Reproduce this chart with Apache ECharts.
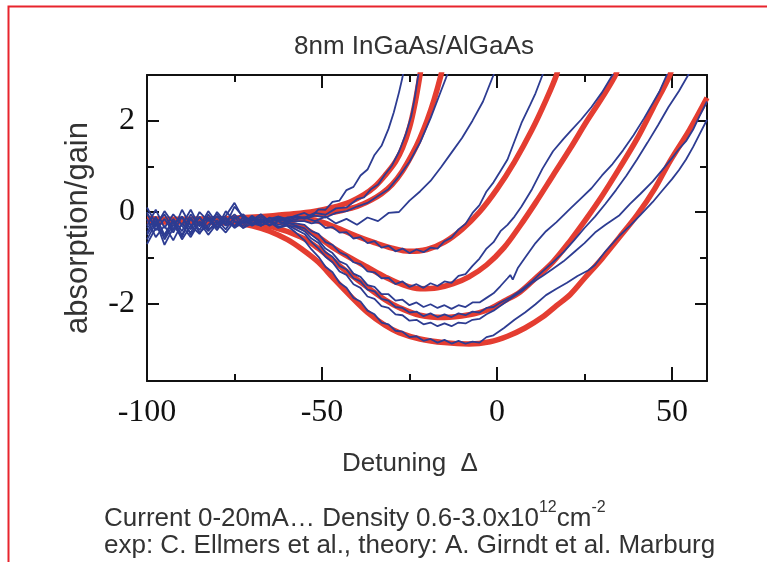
<!DOCTYPE html>
<html>
<head>
<meta charset="utf-8">
<script src="https://cdn.jsdelivr.net/npm/echarts@6/dist/echarts.min.js"></script>
<style>html,body{margin:0;padding:0;background:#fff;}#chart{width:767px;height:562px;}</style>
</head>
<body>
<div id="chart"></div>
<script>
// ---- axis ticks ----
const xMajorTicks = [-100, -50, 0, 50];
const xMinorTicks = [-75, -25, 25];
const yMajorTicks = [-2, 0, 2];
const yMinorTicks = [-1, 1];

// ---- theory curves (red) ----
const theory1 = [[-100,-0.14],[-90,-0.16],[-80,-0.15],[-72,-0.12],[-64,-0.08],[-58,-0.04],[-52,0.02],[-47,0.1],[-42,0.22],[-38,0.38],[-35,0.55],[-32,0.8],[-29,1.1],[-27,1.4],[-25,1.85],[-23.5,2.35],[-22,3.0],[-21.5,3.3]];
const theory2 = [[-100,-0.17],[-90,-0.18],[-80,-0.17],[-70,-0.15],[-62,-0.13],[-55,-0.09],[-49,-0.03],[-44,0.04],[-40,0.12],[-36,0.26],[-33,0.4],[-30,0.6],[-27,0.9],[-24,1.3],[-22,1.62],[-20,2.0],[-18,2.45],[-16,3.0],[-15.5,3.2]];
const theory3 = [[-100,-0.19],[-90,-0.2],[-80,-0.2],[-70,-0.18],[-62,-0.15],[-56,-0.14],[-50,-0.22],[-45,-0.37],[-40,-0.53],[-35,-0.67],[-30,-0.79],[-25,-0.86],[-20,-0.82],[-15,-0.66],[-10,-0.38],[-5,0.0],[0,0.5],[5,1.1],[10,1.8],[14,2.45],[17,3.0],[17.5,3.2]];
const theory4 = [[-100,-0.2],[-90,-0.21],[-80,-0.21],[-70,-0.2],[-62,-0.22],[-56,-0.33],[-51,-0.55],[-47,-0.77],[-42,-1.0],[-37,-1.21],[-32,-1.42],[-28,-1.56],[-22,-1.68],[-17,-1.66],[-12.5,-1.57],[-8,-1.42],[-3,-1.16],[2,-0.78],[6.6,-0.3],[11,0.2],[16,0.8],[21,1.4],[25.6,1.98],[30,2.5],[34,3.02],[34.5,3.2]];
const theory5 = [[-100,-0.21],[-90,-0.22],[-80,-0.23],[-72,-0.25],[-64,-0.33],[-56,-0.55],[-51,-0.8],[-47,-1.05],[-42,-1.36],[-37,-1.65],[-32,-1.92],[-28,-2.09],[-22,-2.26],[-15,-2.31],[-8,-2.25],[-3,-2.15],[2,-1.95],[6.6,-1.75],[11,-1.45],[16,-1.09],[21,-0.62],[25.6,-0.14],[30,0.35],[35,0.96],[40,1.6],[44.6,2.28],[49.4,3.0],[50,3.2]];
const theory6 = [[-100,-0.2],[-90,-0.21],[-82,-0.22],[-75,-0.24],[-70,-0.3],[-65,-0.42],[-60,-0.6],[-56,-0.8],[-51,-1.1],[-47,-1.43],[-42,-1.83],[-37,-2.2],[-32,-2.48],[-28,-2.64],[-22,-2.78],[-15,-2.86],[-8,-2.89],[-2,-2.84],[3,-2.72],[8,-2.54],[13,-2.3],[17,-2.05],[21,-1.8],[25,-1.45],[30,-1.02],[35,-0.55],[40,-0.07],[45,0.5],[49.4,1.11],[55,1.8],[60,2.5]];

// ---- experiment curves (blue): noisy left part on shared detuning grid + right part ----
const noiseX = [-100,-97.5,-95,-92.5,-90,-87.5,-85,-82.5,-80,-77.5,-75,-72.5,-70,-67.5,-65,-62.5,-60,-57.5];
const exp1Left = [-0.05,-0.32,0.02,-0.25,-0.1,-0.38,0.0,-0.2,-0.05,-0.28,0.12,-0.1,-0.18,-0.05,-0.2,-0.1,-0.15,-0.08];
const exp1Right = [[-55,-0.02],[-53,-0.1],[-51,0.06],[-49,0.05],[-47,0.22],[-45,0.25],[-43,0.48],[-41,0.55],[-39,0.8],[-37,0.93],[-35,1.25],[-33,1.45],[-31,1.82],[-29.5,2.18],[-28,2.62],[-27,2.95],[-26.5,3.2]];
const exp2Left = [-0.45,-0.1,-0.5,-0.15,-0.42,-0.05,-0.3,-0.12,-0.35,0.02,-0.2,-0.3,-0.1,-0.25,-0.12,-0.2,-0.12,-0.1];
const exp2Right = [[-55,-0.12],[-52,-0.02],[-49,-0.06],[-46,0.08],[-43,0.1],[-40,0.28],[-38,0.32],[-36,0.5],[-34,0.6],[-32,0.82],[-30,1.02],[-28,1.32],[-26,1.72],[-24.5,2.1],[-23.5,2.5],[-22.5,3.0],[-22,3.2]];
const exp3Left = [0.1,-0.25,-0.05,-0.4,0.05,-0.3,-0.12,-0.35,0.0,-0.22,-0.05,-0.25,-0.08,-0.22,-0.15,-0.1,-0.18,-0.12];
const exp3Right = [[-55,-0.15],[-52,-0.08],[-49,-0.12],[-46,-0.02],[-43,0.02],[-40,0.12],[-37,0.2],[-34,0.35],[-31,0.5],[-28,0.78],[-25,1.1],[-22,1.52],[-19,2.05],[-16.5,2.55],[-14,3.05],[-13.5,3.2]];
const exp4Left = [-0.6,-0.25,-0.55,-0.2,-0.5,-0.15,-0.45,-0.28,-0.1,-0.3,-0.15,-0.05,-0.25,-0.15,-0.22,-0.14,-0.2,-0.16];
const exp4Right = [[-55,-0.12],[-52,-0.2],[-49,-0.1],[-46,-0.25],[-43,-0.15],[-40,-0.28],[-37,-0.12],[-34,-0.2],[-31,-0.02],[-28,0.0],[-25,0.25],[-22,0.45],[-19,0.68],[-16,0.98],[-13,1.3],[-10,1.62],[-7,2.0],[-4,2.42],[-1,3.0],[0,3.2]];
const exp5Left = [-0.3,0.05,-0.35,-0.05,-0.28,0.05,-0.32,0.02,-0.25,-0.08,0.2,-0.15,-0.2,-0.1,-0.22,-0.15,-0.22,-0.2];
const exp5Right = [[-55,-0.2],[-53,-0.25],[-51,-0.22],[-49,-0.35],[-47,-0.33],[-45,-0.45],[-43,-0.44],[-41,-0.58],[-39,-0.55],[-37,-0.68],[-35,-0.64],[-33,-0.78],[-31,-0.74],[-29,-0.86],[-27,-0.8],[-25,-0.9],[-23,-0.82],[-21,-0.88],[-19,-0.78],[-17,-0.8],[-15,-0.64],[-13,-0.56],[-11,-0.38],[-9,-0.26],[-7,-0.02],[-5,0.15],[-3,0.45],[-1,0.65],[1,0.9],[3,1.15],[5,1.55],[7,1.95],[9.5,2.35],[11,2.6],[13,3.0],[13.5,3.15]];
const exp6Left = [-0.7,-0.35,-0.5,-0.22,-0.6,-0.3,-0.48,-0.15,-0.4,-0.12,-0.32,-0.18,-0.3,-0.2,-0.28,-0.2,-0.26,-0.25];
const exp6Right = [[-55,-0.28],[-53,-0.42],[-51,-0.48],[-49,-0.66],[-47,-0.72],[-45,-0.88],[-43,-0.95],[-41,-1.1],[-39,-1.14],[-37,-1.3],[-35,-1.32],[-33,-1.45],[-31,-1.44],[-29,-1.58],[-27,-1.52],[-25,-1.64],[-23,-1.58],[-21,-1.66],[-19,-1.56],[-17,-1.62],[-15,-1.52],[-13,-1.55],[-11,-1.4],[-9,-1.36],[-7,-1.18],[-5,-1.02],[-3,-0.8],[-1,-0.66],[1,-0.42],[3,-0.28],[5,-0.1],[7,0.12],[10,0.5],[13,0.95],[16,1.33],[19,1.6],[21,1.77],[24,2.02],[27,2.3],[30,2.62],[33,3.0],[34,3.15]];
const exp7Left = [0.0,-0.4,-0.15,-0.45,-0.1,-0.5,-0.2,-0.42,-0.18,-0.38,-0.1,-0.35,-0.15,-0.3,-0.18,-0.28,-0.22,-0.3];
const exp7Right = [[-55,-0.36],[-53,-0.5],[-51,-0.62],[-49,-0.8],[-47,-0.9],[-45,-1.08],[-43,-1.15],[-41,-1.35],[-39,-1.42],[-37,-1.6],[-35,-1.64],[-33,-1.8],[-31,-1.8],[-29,-1.94],[-27,-1.92],[-25,-2.04],[-23,-1.98],[-21,-2.08],[-19,-2.02],[-17,-2.1],[-15,-2.04],[-13,-2.12],[-11,-2.04],[-9,-2.08],[-7,-1.98],[-5,-1.98],[-3,-1.88],[-1,-1.78],[1,-1.62],[3,-1.45],[3.8,-1.38],[4.5,-1.48],[6,-1.22],[8,-1.0],[11,-0.68],[14,-0.42],[17,-0.22],[21,0.08],[24,0.3],[27,0.52],[30,0.8],[33,1.05],[36,1.35],[39,1.68],[42,2.05],[44.5,2.38],[46.5,2.65],[48.5,3.0],[49,3.15]];
const exp8Left = [-0.35,-0.15,-0.6,-0.28,-0.55,-0.12,-0.4,-0.05,-0.35,-0.2,-0.3,-0.12,-0.28,-0.18,-0.3,-0.2,-0.3,-0.32];
const exp8Right = [[-55,-0.42],[-53,-0.58],[-51,-0.68],[-49,-0.88],[-47,-0.98],[-45,-1.18],[-43,-1.26],[-41,-1.45],[-39,-1.52],[-37,-1.7],[-35,-1.74],[-33,-1.9],[-31,-1.94],[-29,-2.08],[-27,-2.1],[-25,-2.2],[-23,-2.18],[-21,-2.28],[-19,-2.22],[-17,-2.3],[-15,-2.24],[-13,-2.3],[-11,-2.22],[-9,-2.26],[-7,-2.18],[-5,-2.2],[-3,-2.1],[-1,-2.08],[1,-1.98],[4,-1.86],[7,-1.7],[10,-1.52],[13,-1.3],[16,-1.1],[19,-0.88],[22,-0.62],[25,-0.35],[28,-0.1],[31,0.18],[34,0.48],[37,0.8],[40,1.15],[43,1.52],[46,1.9],[49,2.3],[52,2.65],[55,3.05],[56,3.2]];
const exp9Left = [-0.15,-0.55,-0.3,-0.62,-0.25,-0.45,-0.1,-0.38,-0.28,-0.15,-0.35,-0.22,-0.12,-0.3,-0.2,-0.32,-0.28,-0.38];
const exp9Right = [[-55,-0.48],[-53,-0.66],[-51,-0.8],[-49,-0.98],[-47,-1.1],[-45,-1.3],[-43,-1.38],[-41,-1.58],[-39,-1.66],[-37,-1.85],[-35,-1.9],[-33,-2.06],[-31,-2.1],[-29,-2.24],[-27,-2.26],[-25,-2.38],[-23,-2.36],[-21,-2.46],[-19,-2.42],[-17,-2.5],[-15,-2.44],[-13,-2.5],[-11,-2.42],[-9,-2.44],[-7,-2.36],[-5,-2.34],[-3,-2.24],[-1,-2.16],[2,-2.0],[5,-1.84],[7,-1.74],[10,-1.55],[13,-1.4],[16,-1.24],[19,-1.08],[22,-0.88],[25,-0.68],[28,-0.45],[31,-0.28],[35,-0.07],[38,0.18],[41,0.4],[44.5,0.67],[47,0.9],[50,1.18],[52,1.38],[54,1.55],[56,1.8],[58,2.12],[60,2.42]];
const exp10Left = [-0.5,-0.2,-0.72,-0.35,-0.3,-0.55,-0.22,-0.5,-0.25,-0.45,-0.2,-0.35,-0.25,-0.3,-0.22,-0.35,-0.3,-0.45];
const exp10Right = [[-55,-0.62],[-53,-0.82],[-51,-0.98],[-49,-1.2],[-47,-1.32],[-45,-1.55],[-43,-1.66],[-41,-1.88],[-39,-1.96],[-37,-2.16],[-35,-2.24],[-33,-2.42],[-31,-2.46],[-29,-2.6],[-27,-2.62],[-25,-2.74],[-23,-2.72],[-21,-2.82],[-19,-2.78],[-17,-2.86],[-15,-2.8],[-13,-2.88],[-11,-2.82],[-9,-2.88],[-7,-2.84],[-5,-2.86],[-3,-2.74],[-1,-2.7],[2,-2.54],[5,-2.36],[8,-2.2],[11,-2.02],[14,-1.82],[17,-1.68],[20,-1.55],[23,-1.4],[26,-1.28],[28,-1.16],[31,-0.86],[35,-0.52],[38,-0.3],[41,-0.06],[44.5,0.22],[47,0.45],[50,0.72],[52,0.92],[54,1.15],[56,1.42],[58,1.72],[60,2.02]];

const theoryCurves = [theory1, theory2, theory3, theory4, theory5, theory6];
const expCurves = [
  [exp1Left, exp1Right], [exp2Left, exp2Right], [exp3Left, exp3Right], [exp4Left, exp4Right],
  [exp5Left, exp5Right], [exp6Left, exp6Right], [exp7Left, exp7Right], [exp8Left, exp8Right],
  [exp9Left, exp9Right], [exp10Left, exp10Right]
];

const X_MIN = -100, X_MAX = 60, Y_MIN = -3.7, Y_MAX = 3;
const AXIS_COLOR = '#111';
const BLUE = '#2d3c92';
const RED = '#e43d31';
const TEXT_COLOR = '#333';

function mkAxis(dim, position, ticks, tickLen, showLine, showLabel) {
  const isX = dim === 'x';
  const ax = {
    type: 'value', position: position,
    min: isX ? X_MIN : Y_MIN, max: isX ? X_MAX : Y_MAX,
    axisLine: { show: showLine, onZero: false, lineStyle: { color: AXIS_COLOR, width: 2 } },
    axisTick: { show: true, inside: true, length: tickLen, customValues: ticks, lineStyle: { color: AXIS_COLOR, width: 2 } },
    axisLabel: showLabel ? {
      show: true, customValues: ticks, fontFamily: 'Liberation Serif', fontSize: 32, color: '#111',
      margin: isX ? 16 : 12
    } : { show: false },
    splitLine: { show: false }
  };
  return ax;
}

const xMain = mkAxis('x', 'bottom', xMajorTicks, 14, true, true);
xMain.name = 'Detuning  \u0394';
xMain.nameLocation = 'middle';
xMain.nameGap = 70;
xMain.nameTextStyle = { fontFamily: 'Liberation Sans', fontSize: 26, color: TEXT_COLOR, padding: [0, 34, 0, 0] };
const yMain = mkAxis('y', 'left', yMajorTicks, 12, true, true);
yMain.name = 'absorption/gain';
yMain.nameLocation = 'middle';
yMain.nameGap = 53;
yMain.nameTextStyle = { fontFamily: 'Liberation Sans', fontSize: 31, color: TEXT_COLOR };

const series = [];
theoryCurves.forEach((c, i) => {
  series.push({
    name: 'theory ' + (i + 1), type: 'line', data: c, xAxisIndex: 0, yAxisIndex: 0,
    smooth: 0.35, symbol: 'none', clip: true, z: 2,
    lineStyle: { color: RED, width: 5.5 }
  });
});
expCurves.forEach((c, i) => {
  const data = noiseX.map((x, k) => [x, c[0][k]]).concat(c[1]);
  series.push({
    name: 'experiment ' + (i + 1), type: 'line', data: data, xAxisIndex: 0, yAxisIndex: 0,
    symbol: 'none', clip: true, z: 3,
    lineStyle: { color: BLUE, width: 1.8 }
  });
});

const chart = echarts.init(document.getElementById('chart'), null, { renderer: 'canvas' });
chart.setOption({
  animation: false,
  backgroundColor: '#fff',
  title: {
    text: '8nm InGaAs/AlGaAs', left: 294, top: 34, padding: 0,
    textStyle: { fontFamily: 'Liberation Sans', fontSize: 26, fontWeight: 'normal', color: TEXT_COLOR }
  },
  grid: { left: 147, right: 60, top: 75, bottom: 181, containLabel: false },
  xAxis: [
    xMain,
    mkAxis('x', 'bottom', xMinorTicks, 7, false, false),
    mkAxis('x', 'top', xMajorTicks, 13, true, false),
    mkAxis('x', 'top', xMinorTicks, 7, false, false)
  ],
  yAxis: [
    yMain,
    mkAxis('y', 'left', yMinorTicks, 7, false, false),
    mkAxis('y', 'right', yMajorTicks, 12, true, false),
    mkAxis('y', 'right', yMinorTicks, 7, false, false)
  ],
  series: series,
  graphic: [
    {
      type: 'polyline', silent: true,
      shape: { points: [[8.5, 562], [8.5, 6.5], [767, 6.5]] },
      style: { stroke: '#e8242d', lineWidth: 2, fill: null }
    },
    {
      type: 'text', left: 104, top: 500, silent: true,
      style: {
        text: '{a|Current 0-20mA\u2026 Density 0.6-3.0x10}{s|12}{a|cm}{s|-2}',
        fill: TEXT_COLOR,
        rich: {
          a: { fontFamily: 'Liberation Sans', fontSize: 26, fill: TEXT_COLOR, lineHeight: 32, verticalAlign: 'bottom' },
          s: { fontFamily: 'Liberation Sans', fontSize: 16, fill: TEXT_COLOR, lineHeight: 32, verticalAlign: 'top', padding: [0, 0, 14, 0] }
        }
      }
    },
    {
      type: 'text', left: 104, top: 533, silent: true,
      style: {
        text: 'exp: C. Ellmers et al., theory: A. Girndt et al. Marburg',
        fontFamily: 'Liberation Sans', fontSize: 26, fill: TEXT_COLOR
      }
    }
  ]
});
</script>
</body>
</html>
